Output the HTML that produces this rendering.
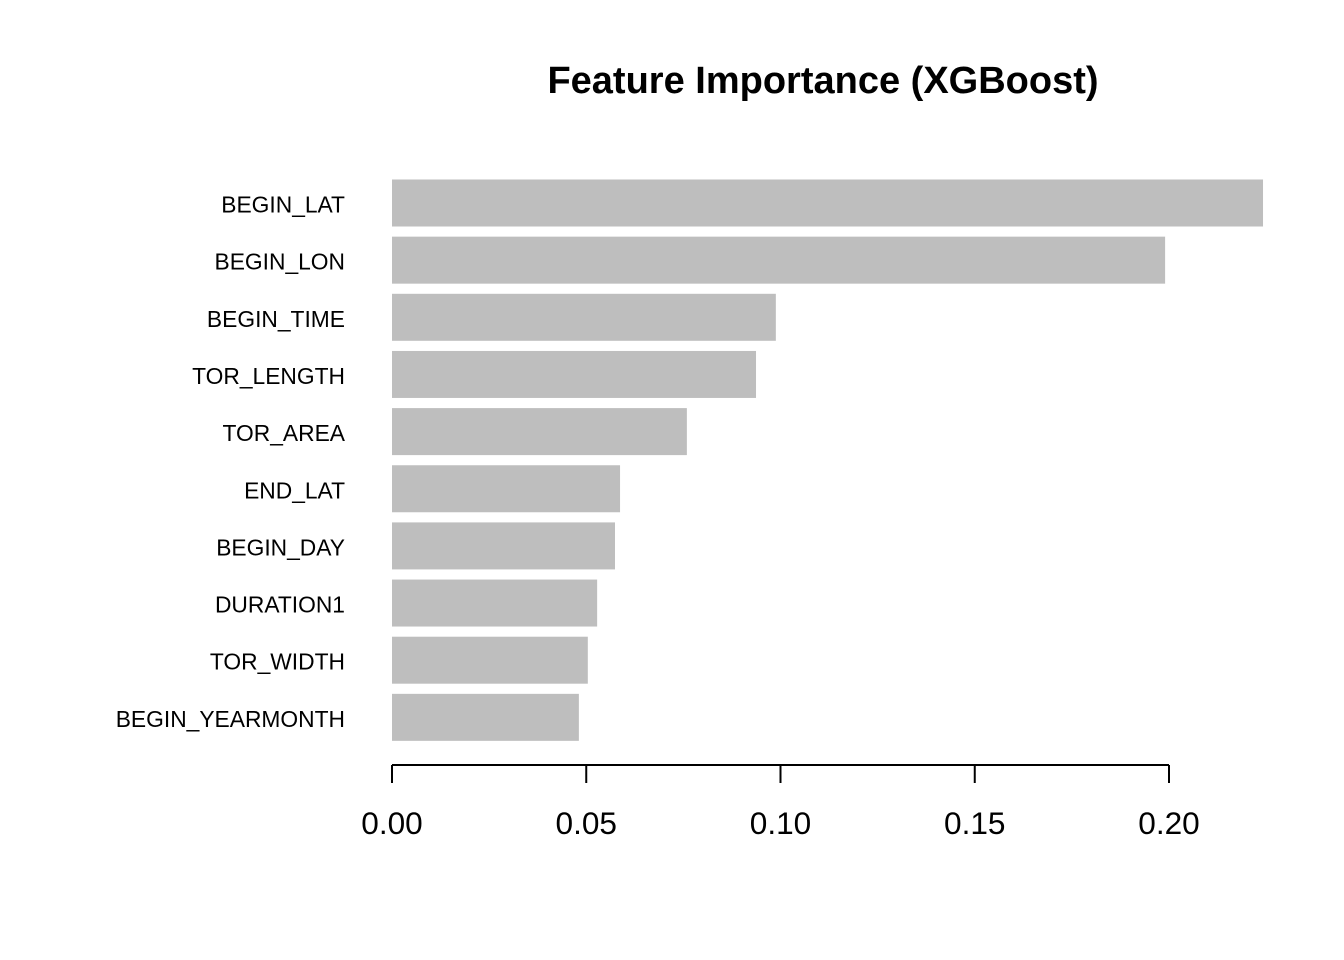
<!DOCTYPE html>
<html><head><meta charset="utf-8"><style>
body{margin:0;background:#fff}
svg{display:block}
text{font-family:"Liberation Sans",Arial,sans-serif}
</style></head><body>
<svg id="chart" width="1344" height="960" viewBox="0 0 1344 960">
<rect width="1344" height="960" fill="#fff"/>
<text x="823" y="93" text-anchor="middle" font-size="38" font-weight="bold">Feature Importance (XGBoost)</text>
<g id="bars"></g><g id="axis"></g>
</svg>
<script>
const features=["BEGIN_LAT","BEGIN_LON","BEGIN_TIME","TOR_LENGTH","TOR_AREA","END_LAT","BEGIN_DAY","DURATION1","TOR_WIDTH","BEGIN_YEARMONTH"];
const importance=[0.2242,0.1990,0.0988,0.0937,0.0759,0.0587,0.0574,0.0528,0.0504,0.0481];
const ticks=[0,0.05,0.10,0.15,0.20];
const tickLabels=["0.00","0.05","0.10","0.15","0.20"];
const NS="http://www.w3.org/2000/svg";
const x=v=>392+v*3885;
const yc=i=>203+i*57.15;
const bh=47;
const bars=document.getElementById('bars'),axis=document.getElementById('axis');
function mk(tag,attrs,parent){const e=document.createElementNS(NS,tag);for(const k in attrs)e.setAttribute(k,attrs[k]);parent.appendChild(e);return e;}
features.forEach((f,i)=>{
  const r=mk('rect',{x:x(0),y:yc(i)-bh/2,width:x(importance[i])-x(0),height:bh,fill:'#BEBEBE'},bars);
  
  
  const t=mk('text',{x:345,y:yc(i)+9.5,'text-anchor':'end','font-size':22.8},bars);
  t.textContent=f;
  
  
});
const al=mk('line',{x1:x(ticks[0]),x2:x(ticks[ticks.length-1]),y1:765,y2:765,stroke:'#000','stroke-width':2},axis);


ticks.forEach((v,i)=>{
  const l=mk('line',{x1:x(v),x2:x(v),y1:765,y2:783,stroke:'#000','stroke-width':2},axis);
  
  
  const t=mk('text',{x:x(v),y:834,'text-anchor':'middle','font-size':31.6},axis);
  t.textContent=tickLabels[i];
  
  
});
</script>
</body></html>
